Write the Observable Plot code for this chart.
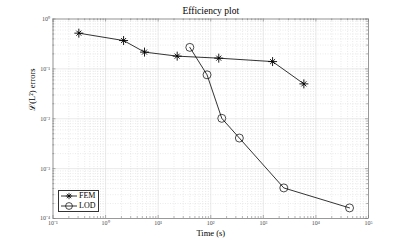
<!DOCTYPE html>
<html><head><meta charset="utf-8">
<script src="https://cdn.jsdelivr.net/npm/d3@7"></script>
<script src="https://cdn.jsdelivr.net/npm/@observablehq/plot@0.6"></script>
<style>
body{margin:0;background:#fff;}
#wrap{position:relative;width:407px;height:244px;}
.legend{position:absolute;left:58px;top:190px;width:39px;height:20px;border:0.8px solid #333;background:#fff;font-family:"Liberation Serif",serif;font-size:8px;color:#000;}
.legend .row{position:absolute;left:0;height:10px;width:40px;}
.legend svg{position:absolute;left:1px;top:0;}
.legend span{position:absolute;left:20px;top:-0.5px;line-height:10px;}
</style></head><body><div id="wrap"></div>
<script>
const femTime = [0.31, 2.2, 5.5, 23, 142, 1500, 5900];
const femError = [0.52, 0.37, 0.217, 0.18, 0.164, 0.14, 0.05];
const lodTime = [40, 85, 162, 350, 2450, 43600];
const lodError = [0.27, 0.076, 0.0102, 0.0041, 0.00041, 0.000163];
const xTicks = [1e-1, 1e0, 1e1, 1e2, 1e3, 1e4, 1e5];
const yTicks = [1e-4, 1e-3, 1e-2, 1e-1, 1e0];
const xTickLabels = ["10⁻¹", "10⁰", "10¹", "10²", "10³", "10⁴", "10⁵"];
const yTickLabels = ["10⁻⁴", "10⁻³", "10⁻²", "10⁻¹", "10⁰"];
const title = "Efficiency plot";
const xLabel = "Time (s)";
const yLabel = "ℒ(L²) errors";
const seriesNames = ["FEM", "LOD"];

const fem = femTime.map((t, i) => ({t, e: femError[i]}));
const lod = lodTime.map((t, i) => ({t, e: lodError[i]}));
const mult = [2, 3, 4, 5, 6, 7, 8, 9];
const xMinor = xTicks.slice(0, -1).flatMap(d => mult.map(m => m * d));
const yMinor = yTicks.slice(0, -1).flatMap(d => mult.map(m => m * d));

const W = 407, H = 244, mL = 52.5, mR = 39, mT = 18.5, mB = 26;
const PH = H - mT - mB;
const PW = W - mL - mR;
const serif = "Liberation Serif, Times New Roman, serif";
const tickCol = "#4d4d4d";

const chart = Plot.plot({
  width: W, height: H,
  marginLeft: mL, marginRight: mR, marginTop: mT, marginBottom: mB,
  style: {fontFamily: serif, background: "#fff", overflow: "visible"},
  x: {type: "log", domain: [1e-1, 1e5], axis: null},
  y: {type: "log", domain: [1e-4, 1], axis: null},
  marks: [
    Plot.ruleX(xMinor, {x: d => d, stroke: "#d6d6d6", strokeWidth: 0.5, strokeDasharray: "1,1.5"}),
    Plot.ruleY(yMinor, {y: d => d, stroke: "#d6d6d6", strokeWidth: 0.5, strokeDasharray: "1,1.5"}),
    Plot.ruleX(xTicks, {x: d => d, stroke: "#dcdcdc", strokeWidth: 0.6}),
    Plot.ruleY(yTicks, {y: d => d, stroke: "#dcdcdc", strokeWidth: 0.6}),
    // inward ticks
    Plot.tickX(xTicks, {x: d => d, insetTop: PH - 3, stroke: "#666", strokeWidth: 0.5}),
    Plot.tickX(xTicks, {x: d => d, insetBottom: PH - 3, stroke: "#666", strokeWidth: 0.5}),
    Plot.tickX(xMinor, {x: d => d, insetTop: PH - 1.8, stroke: "#666", strokeWidth: 0.5}),
    Plot.tickX(xMinor, {x: d => d, insetBottom: PH - 1.8, stroke: "#666", strokeWidth: 0.5}),
    Plot.tickY(yTicks, {y: d => d, insetRight: PW - 3, stroke: "#666", strokeWidth: 0.5}),
    Plot.tickY(yTicks, {y: d => d, insetLeft: PW - 3, stroke: "#666", strokeWidth: 0.5}),
    Plot.tickY(yMinor, {y: d => d, insetRight: PW - 1.8, stroke: "#666", strokeWidth: 0.5}),
    Plot.tickY(yMinor, {y: d => d, insetLeft: PW - 1.8, stroke: "#666", strokeWidth: 0.5}),
    Plot.frame({stroke: "#777", strokeWidth: 0.7}),
    // tick labels
    Plot.text(xTicks, {x: d => d, frameAnchor: "bottom", dy: 5, lineAnchor: "middle", text: (d, i) => xTickLabels[i], fontSize: 6, fill: tickCol}),
    Plot.text(yTicks, {y: d => d, frameAnchor: "left", dx: -3, textAnchor: "end", lineAnchor: "middle", text: (d, i) => yTickLabels[i], fontSize: 6, fill: tickCol}),
    // data
    Plot.line(fem, {x: "t", y: "e", stroke: "#000", strokeWidth: 0.8}),
    Plot.line(lod, {x: "t", y: "e", stroke: "#000", strokeWidth: 0.8}),
    Plot.dot(fem, {x: "t", y: "e", symbol: "plus", r: 3.0, stroke: "#000", strokeWidth: 0.9}),
    Plot.dot(fem, {x: "t", y: "e", symbol: "times", r: 2.4, stroke: "#000", strokeWidth: 0.9}),
    Plot.dot(lod, {x: "t", y: "e", symbol: "circle", r: 4, stroke: "#000", fill: "none", strokeWidth: 0.7}),
    // titles
    Plot.text([title], {frameAnchor: "top", dy: -8, lineAnchor: "middle", text: d => d, fontSize: 9.5, fill: "#000"}),
    Plot.text([xLabel], {frameAnchor: "bottom", dy: 14.5, lineAnchor: "middle", text: d => d, fontSize: 8.5, fill: "#000"}),
    Plot.text([yLabel], {frameAnchor: "left", dx: -21, dy: -8, rotate: -90, lineAnchor: "middle", text: d => d, fontSize: 8.5, fill: "#000"})
  ]
});
const wrap = document.getElementById("wrap");
wrap.appendChild(chart);

const leg = document.createElement("div");
leg.className = "legend";
const symbols = {
  FEM: '<line x1="1" y1="5" x2="17" y2="5" stroke="#000" stroke-width="0.8"/><path d="M9,1.8V8.2M5.8,5H12.2M6.8,2.8L11.2,7.2M11.2,2.8L6.8,7.2" stroke="#000" stroke-width="0.8"/>',
  LOD: '<line x1="1" y1="5" x2="17" y2="5" stroke="#000" stroke-width="0.8"/><circle cx="9" cy="5" r="3.4" fill="none" stroke="#000" stroke-width="0.7"/>'
};
seriesNames.forEach((name, i) => {
  const row = document.createElement("div");
  row.className = "row";
  row.style.top = (i * 10) + "px";
  row.innerHTML = '<svg width="19" height="10">' + symbols[name] + '</svg><span>' + name + '</span>';
  leg.appendChild(row);
});
wrap.appendChild(leg);
</script></body></html>
